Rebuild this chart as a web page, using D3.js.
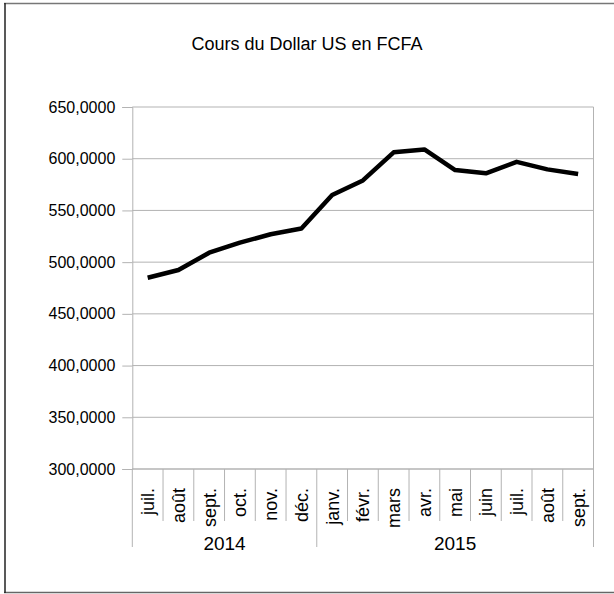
<!DOCTYPE html>
<html>
<head>
<meta charset="utf-8">
<script src="https://cdn.jsdelivr.net/npm/d3@7"></script>
<style>
  body { margin: 0; background: #fff; }
  text { font-family: "Liberation Sans", Arial, sans-serif; fill: #000; }
</style>
</head>
<body>
<svg id="chart" width="614" height="594"></svg>
<script>
// Cours du Dollar US en FCFA, juil. 2014 -> sept. 2015
const months = ["juil.","août","sept.","oct.","nov.","déc.","janv.","févr.","mars","avr.","mai","juin","juil.","août","sept."];
const years = ["2014","2015"];
const monthsPerYear = [6, 9];
const values = [484.9, 492.4, 509.1, 518.8, 527.0, 532.5, 564.9, 579.0, 606.2, 609.0, 589.0, 585.9, 597.0, 589.7, 585.2];
const yTicks = [300,350,400,450,500,550,600,650];

const svg = d3.select("#chart");
const plotLeft = 132.3, plotRight = 593.5, plotTop = 107, plotBottom = 469;
const grid = "#b3b3b3";

// outer frame (the right side is cut off in the original)
svg.append("line").attr("x1", 4).attr("x2", 614).attr("y1", 3.5).attr("y2", 3.5)
  .attr("stroke", "#777").attr("stroke-width", 1.5);
svg.append("line").attr("x1", 4).attr("x2", 614).attr("y1", 592.5).attr("y2", 592.5)
  .attr("stroke", "#666").attr("stroke-width", 1.5);
svg.append("line").attr("x1", 5).attr("x2", 5).attr("y1", 3).attr("y2", 593)
  .attr("stroke", "#222").attr("stroke-width", 1.5);

svg.append("text")
  .attr("x", 307).attr("y", 50)
  .attr("text-anchor", "middle")
  .style("font-size", "18px")
  .text("Cours du Dollar US en FCFA");

let x = d3.scaleBand()
  .domain(d3.range(months.length))
  .range([plotLeft, plotRight]);
let y = d3.scaleLinear()
  .domain([300, 650])
  .range([plotBottom, plotTop]);

// horizontal gridlines
svg.append("g").selectAll("line")
  .data(yTicks).enter()
  .append("line")
  .attr("x1", plotLeft).attr("x2", plotRight)
  .attr("y1", d => y(d)).attr("y2", d => y(d))
  .attr("stroke", grid);

// y axis
let yAxis = d3.axisLeft(y)
  .tickValues(yTicks)
  .tickSize(10)
  .tickPadding(7)
  .tickFormat(d => d3.format(".4f")(d).replace(".", ","));
let ya = svg.append("g")
  .attr("transform", "translate(" + plotLeft + ",0)")
  .call(yAxis);
ya.select(".domain").attr("stroke", grid);
ya.selectAll(".tick line").attr("stroke", grid);
ya.selectAll(".tick text")
  .style("font-size", "16px")
  .style("font-family", "'Liberation Sans', Arial, sans-serif")
  .attr("fill", "#000");

// right edge of plot
svg.append("line")
  .attr("x1", plotRight).attr("x2", plotRight)
  .attr("y1", plotTop).attr("y2", plotBottom)
  .attr("stroke", grid);

// x axis: month separators + year separators
svg.append("line")
  .attr("x1", plotLeft).attr("x2", plotRight)
  .attr("y1", plotBottom).attr("y2", plotBottom)
  .attr("stroke", grid);

let yearBounds = [0];
monthsPerYear.forEach(n => yearBounds.push(yearBounds[yearBounds.length - 1] + n));

svg.append("g").selectAll("line")
  .data(d3.range(months.length + 1)).enter()
  .append("line")
  .attr("x1", i => plotLeft + x.step() * i)
  .attr("x2", i => plotLeft + x.step() * i)
  .attr("y1", plotBottom)
  .attr("y2", i => yearBounds.includes(i) ? 547 : 521)
  .attr("stroke", grid);

svg.append("g").selectAll("text")
  .data(months).enter()
  .append("text")
  .attr("transform", (d, i) => "translate(" + (x(i) + x.bandwidth() / 2 + 6.5) + ",488) rotate(-90)")
  .attr("text-anchor", "end")
  .style("font-size", "18px")
  .text(d => d);

svg.append("g").selectAll("text")
  .data(years).enter()
  .append("text")
  .attr("x", (d, i) => (plotLeft + x.step() * yearBounds[i] + plotLeft + x.step() * yearBounds[i + 1]) / 2)
  .attr("y", 550)
  .attr("text-anchor", "middle")
  .style("font-size", "19px")
  .text(d => d);

// the series
let line = d3.line()
  .x((d, i) => x(i) + x.bandwidth() / 2)
  .y(d => y(d));

svg.append("path")
  .datum(values)
  .attr("d", line)
  .attr("fill", "none")
  .attr("stroke", "#000")
  .attr("stroke-width", 4.5)
  .attr("stroke-linejoin", "round");
</script>
</body>
</html>
